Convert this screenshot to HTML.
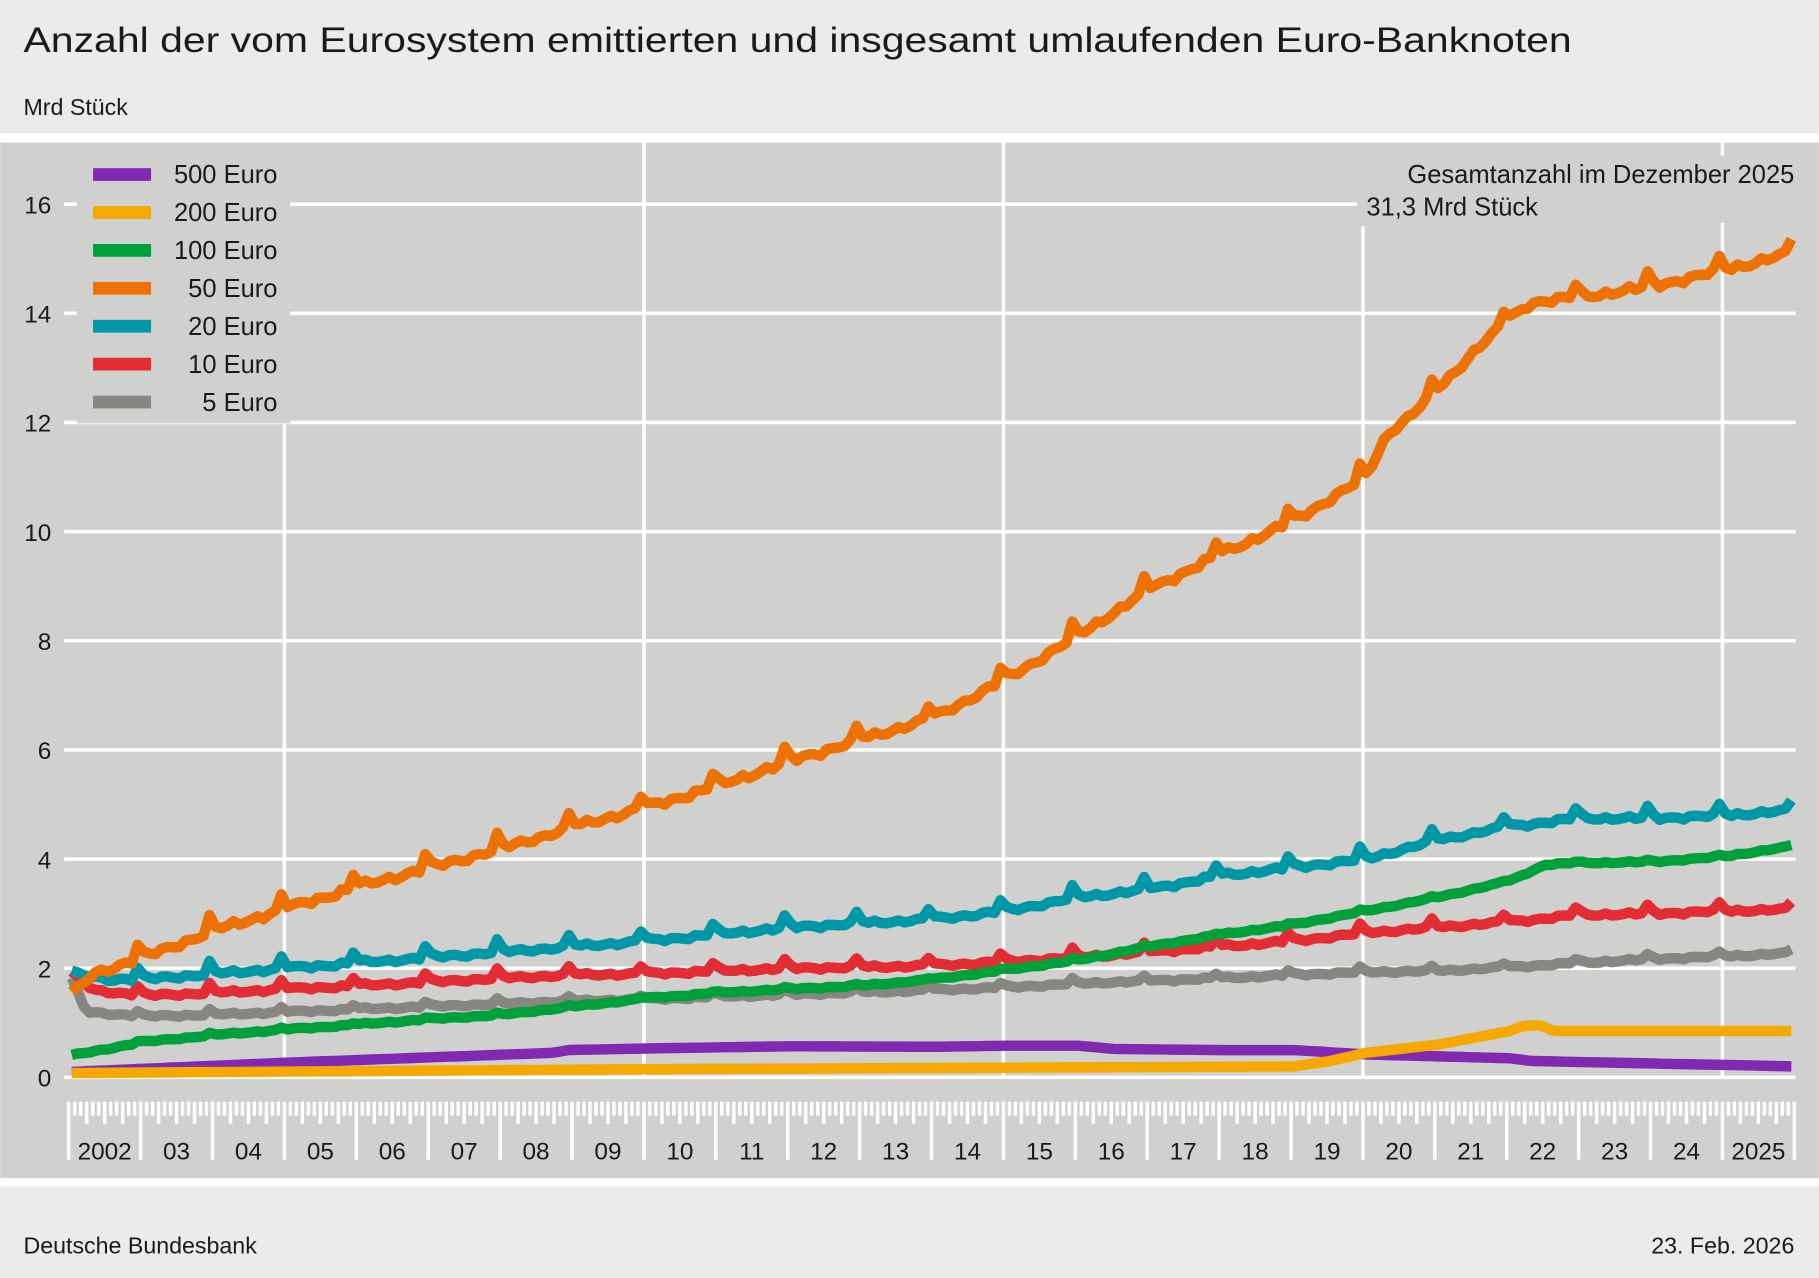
<!DOCTYPE html>
<html><head><meta charset="utf-8"><style>
html,body{margin:0;padding:0;background:#ebebeb}
svg{display:block}
text{font-family:"Liberation Sans",sans-serif;fill:#1a1a1a}
</style></head><body>
<svg id="s" width="1819" height="1278" viewBox="0 0 1568 1102" xmlns="http://www.w3.org/2000/svg">
<rect x="0" y="0" width="1568" height="1102" fill="#ebebeb"/>
<rect x="0" y="115" width="1568" height="8" fill="#fff"/>
<rect x="0" y="123" width="1568" height="893" fill="#d0d0cf"/>
<rect x="0" y="1016" width="1568" height="7" fill="#fff"/>
<text x="20" y="45" font-size="30" textLength="1335" lengthAdjust="spacingAndGlyphs">Anzahl der vom Eurosystem emittierten und insgesamt umlaufenden Euro-Banknoten</text>
<text x="20" y="99" font-size="20">Mrd Stück</text>
<text x="20" y="1081" font-size="20">Deutsche Bundesbank</text>
<text x="1547" y="1081" font-size="20" text-anchor="end">23. Feb. 2026</text>
<g id="grid"></g>
<g id="ticks"></g>
<g id="series" fill="none" stroke-width="9" stroke-linejoin="round" stroke-linecap="butt"></g>
<rect x="66" y="134" width="184" height="231" fill="#d0d0cf"/>
<g id="legend"></g>
<rect x="1170" y="134" width="380" height="58" fill="#d0d0cf"/>
<text x="1547" y="158" font-size="22" text-anchor="end">Gesamtanzahl im Dezember 2025</text>
<text x="1178" y="186" font-size="22">31,3 Mrd Stück</text>
</svg>
<script>
var NS="http://www.w3.org/2000/svg";
function el(p,t,a,txt){var e=document.createElementNS(NS,t);for(var k in a)e.setAttribute(k,a[k]);if(txt!==undefined)e.textContent=txt;document.getElementById(p).appendChild(e);return e;}
function Y(v){return 929-47.06*v;}
function X(t){return 59+(t-2002)*62;}
for(var v=0;v<=16;v+=2){
 el("grid","rect",{x:55,y:Y(v)-1.5,width:1493,height:3,fill:"#fff"});
 el("grid","text",{x:44,y:Y(v)+8,"font-size":21,"text-anchor":"end"},String(v));
}
[2005,2010,2015,2020,2025].forEach(function(yr){
 var top=yr==2005?365:(yr==2020?195:123);
 el("grid","rect",{x:X(yr)-1.5,y:top,width:3,height:929-top,fill:"#fff"});
});
for(var m=0;m<=288;m++){
 var x=59+m*62/12, len=12;
 if(m%12==0)len=50;else if(m%3==0)len=19;
 el("ticks","rect",{x:x-1.5,y:950,width:3,height:len,fill:"#fff"});
}
var labs=["2002","03","04","05","06","07","08","09","10","11","12","13","14","15","16","17","18","19","20","21","22","23","24","2025"];
labs.forEach(function(l,i){el("ticks","text",{x:59+i*62+31,y:1000,"font-size":21,"text-anchor":"middle"},l);});
function interp(a,t){for(var i=0;i<a.length-1;i++){if(t>=a[i][0]&&t<=a[i+1][0]){var f=(t-a[i][0])/(a[i+1][0]-a[i][0]);return a[i][1]+f*(a[i+1][1]-a[i][1]);}}return a[a.length-1][1];}
function draw(col,anc,spike,noise){
 var d="";
 for(var m=0;m<288;m++){
  var t=2002+m/12, v=interp(anc,t);
  if(m%12==11)v+=spike;
  if(m%12==0)v+=spike*0.2;
  v+=noise*(Math.sin(m*1.7)+0.6*Math.sin(m*0.53+1)+0.4*Math.sin(m*3.1));
  var x=59+(m+0.5)*62/12;
  d+=(m?"L":"M")+x.toFixed(1)+" "+Y(v).toFixed(1);
 }
 el("series","path",{d:d,stroke:col});
}
var S={
500:[[2002,0.1],[2005,0.27],[2008.7,0.45],[2008.9,0.5],[2010,0.53],[2012,0.57],[2014,0.56],[2015,0.58],[2016,0.58],[2016.5,0.52],[2018,0.5],[2019,0.5],[2020,0.42],[2022,0.35],[2022.3,0.3],[2026,0.2]],
200:[[2002,0.08],[2010,0.15],[2019,0.2],[2019.5,0.3],[2020,0.45],[2021,0.6],[2022,0.85],[2022.2,0.95],[2022.45,0.95],[2022.6,0.85],[2026,0.85]],
5:[[2002,1.8],[2002.2,1.2],[2003,1.12],[2004,1.15],[2005,1.2],[2006,1.25],[2007,1.3],[2008,1.35],[2009,1.4],[2010,1.43],[2011,1.48],[2012,1.52],[2013,1.56],[2014,1.6],[2015,1.65],[2016,1.72],[2017,1.77],[2018,1.82],[2019,1.88],[2020,1.93],[2021,1.95],[2022,2.02],[2023,2.1],[2024,2.17],[2025,2.22],[2026,2.28]],
10:[[2002,1.9],[2002.3,1.6],[2003,1.5],[2004,1.55],[2005,1.62],[2006,1.68],[2007,1.75],[2008,1.82],[2009,1.88],[2010,1.9],[2011,1.95],[2012,2.0],[2013,2.02],[2014,2.05],[2015,2.12],[2016,2.2],[2017,2.3],[2018,2.4],[2019,2.5],[2020,2.65],[2021,2.75],[2022,2.85],[2023,2.98],[2024,3.0],[2025,3.05],[2026,3.08]],
100:[[2002,0.4],[2003,0.65],[2004,0.78],[2005,0.88],[2006,0.97],[2007,1.07],[2008,1.15],[2009,1.3],[2010,1.45],[2011,1.55],[2012,1.62],[2013,1.68],[2014,1.8],[2015,1.97],[2016,2.15],[2017,2.4],[2018,2.62],[2019,2.8],[2020,3.05],[2021,3.3],[2022,3.6],[2022.5,3.9],[2023,3.93],[2024,3.95],[2025,4.05],[2026,4.25]],
20:[[2002,1.9],[2002.5,1.8],[2003,1.8],[2005,2.0],[2008,2.3],[2010,2.5],[2012,2.75],[2014,2.9],[2015,3.05],[2016,3.3],[2017,3.45],[2018,3.7],[2019,3.85],[2020,4.0],[2021,4.35],[2022,4.6],[2023,4.75],[2024,4.75],[2025,4.8],[2026,4.9]],
50:[[2002,1.5],[2002.3,1.9],[2003,2.2],[2004,2.7],[2005,3.1],[2006,3.5],[2007,3.85],[2008,4.2],[2009,4.6],[2010,4.95],[2011,5.35],[2012,5.8],[2013,6.2],[2014,6.6],[2015,7.3],[2016,8.1],[2017,8.95],[2018,9.6],[2019,10.2],[2020,11.0],[2020.3,11.8],[2020.6,12.1],[2021,12.6],[2021.5,13.3],[2022,13.9],[2022.3,14.2],[2023,14.3],[2024,14.5],[2025,14.8],[2025.9,15.1],[2026,15.3]]};
draw("#8229b3",S[500],0,0);
draw("#f5a800",S[200],0,0);
draw("#878683",S[5],0.08,0.015);
draw("#e22d34",S[10],0.15,0.02);
draw("#00a03a",S[100],0.03,0.01);
draw("#0098a6",S[20],0.2,0.025);
draw("#ee7203",S[50],0.25,0.04);
var L=[["#8229b3","500 Euro"],["#f5a800","200 Euro"],["#00a03a","100 Euro"],["#ee7203","50 Euro"],["#0098a6","20 Euro"],["#e22d34","10 Euro"],["#878683","5 Euro"]];
L.forEach(function(l,i){var y=150+i*32.7;
 el("legend","rect",{x:80,y:y-5,width:50,height:11,fill:l[0]});
 el("legend","text",{x:239,y:y+8,"font-size":22,"text-anchor":"end"},l[1]);});
</script>
</body></html>
